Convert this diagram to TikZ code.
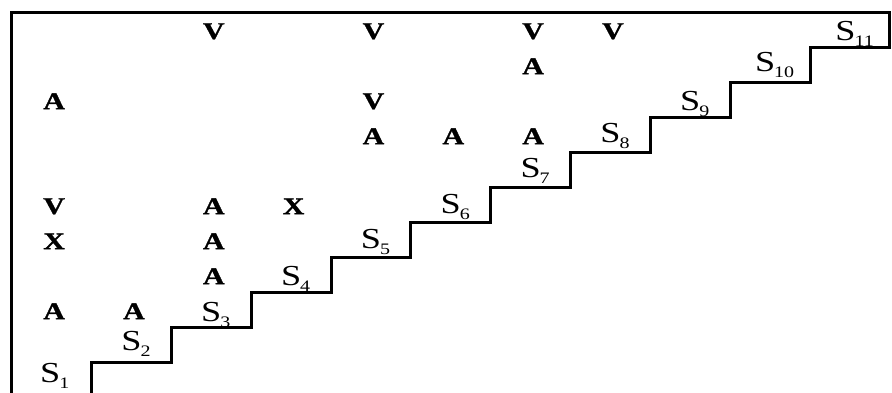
\documentclass[tikz,border=0pt]{standalone}
\usepackage{fontspec}
\setmainfont{Liberation Serif}[FakeStretch=1.25, BoldFeatures={FakeBold=1.2}]
\begin{document}
\begin{tikzpicture}[x=1pt,y=-1pt,
  rel/.style={font=\fontsize{24}{24}\selectfont\bfseries, inner sep=0pt},
  stage/.style={font=\fontsize{29}{29}\selectfont, anchor=base, inner sep=0pt},
  frame/.style={line width=3pt, line join=miter}]
\useasboundingbox (0,0) rectangle (892,393);

% outer border and staircase
\draw[frame] (11.7,397) -- (11.7,12.3) -- (889.83,12.3) -- (889.83,47.3)
  -- (810.0,47.3) -- (810.0,82.3) -- (730.17,82.3) -- (730.17,117.3)
  -- (650.34,117.3) -- (650.34,152.3) -- (570.51,152.3) -- (570.51,187.3)
  -- (490.68,187.3) -- (490.68,222.3) -- (410.85,222.3) -- (410.85,257.3)
  -- (331.02,257.3) -- (331.02,292.3) -- (251.19,292.3) -- (251.19,327.3)
  -- (171.36,327.3) -- (171.36,362.3) -- (91.53,362.3) -- (91.53,397);

% relation letters: column/row/letter
\foreach \c/\r/\t in {3/1/V,5/1/V,7/1/V,8/1/V,
                      7/2/A,
                      1/3/A,5/3/V,
                      5/4/A,6/4/A,7/4/A,
                      1/6/V,3/6/A,4/6/X,
                      1/7/X,3/7/A,
                      3/8/A,
                      1/9/A,2/9/A}
  \node[rel] (r\r c\c) at ({11.7+79.83*(\c-0.5)+2.5},{12.3+35*(\r-0.5)+1.5}) {\t};

% stage labels on the steps: index/lift above step/horizontal shift
\foreach \i/\dy/\dx in {1/15/-1.4,2/12/0,3/6/0,4/7/0,5/9/0,6/9/0,
                        7/10/0,8/10/0,9/7/0,10/11/-5,11/7/-4.4}
  \node[stage] (s\i) at ({11.7+79.83*(\i-0.5)+\dx},{12.3+35*(12-\i)-\dy})
    {S\rlap{\kern-1pt\raisebox{-6.5pt}{\fontsize{16}{16}\selectfont\i}}};
\end{tikzpicture}
\end{document}
